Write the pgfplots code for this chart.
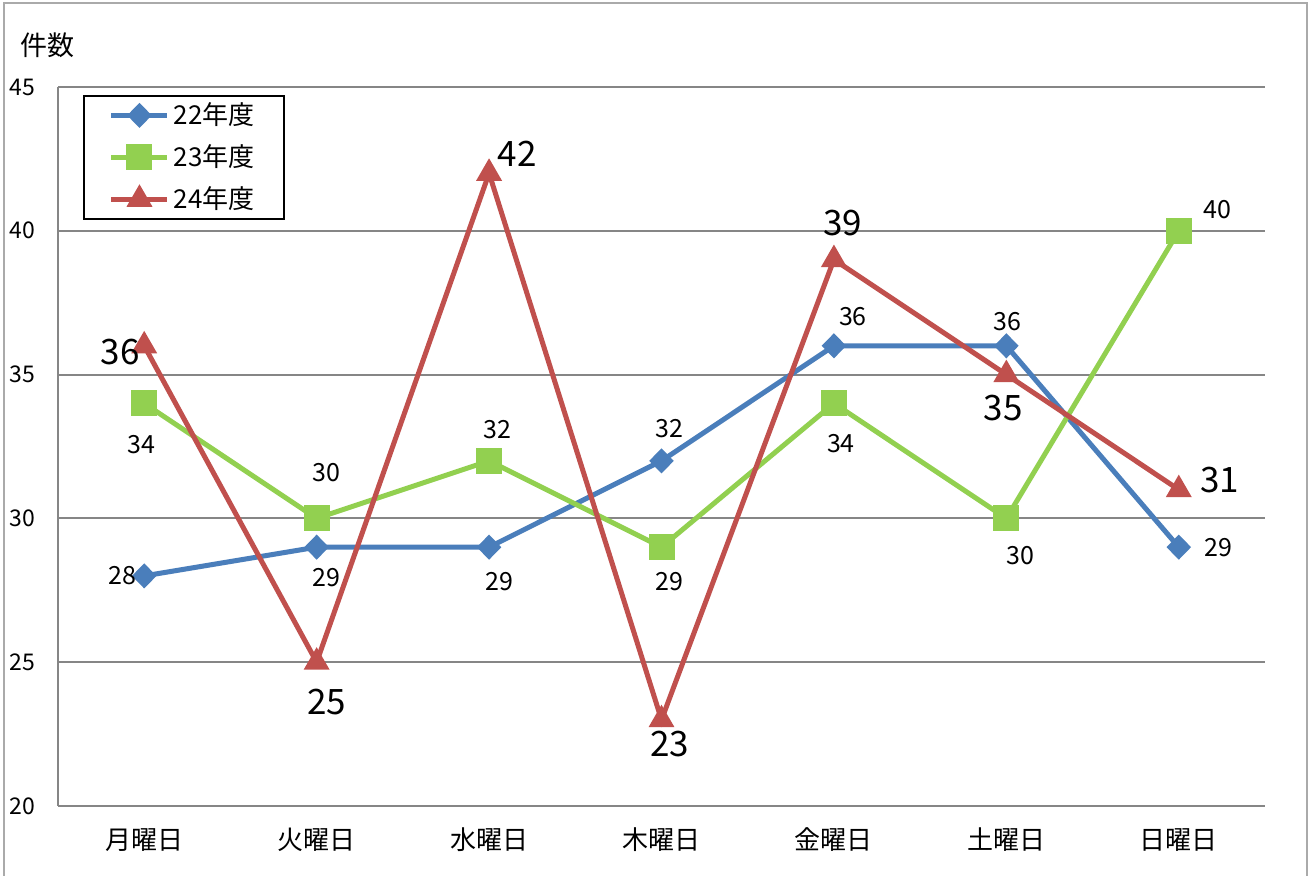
\documentclass[border=0pt]{standalone}
\usepackage{fontspec}
\setmainfont{Noto Sans CJK JP}
\usepackage{pgfplots}
\pgfplotsset{compat=1.18}
\usepackage{pgfplotstable}
\definecolor{s1}{HTML}{4A7EBB}
\definecolor{s2}{HTML}{92D050}
\definecolor{s3}{HTML}{C0504D}
\definecolor{gridc}{HTML}{868686}

\pgfplotstableread{
x y dx dy
0 28 -10.75 0
1 29 5 -15
2 29 5 -17
3 32 4 16
4 36 9.5 14.5
5 36 0.5 12
6 29 20 0
}\tA
\pgfplotstableread{
x y dx dy
0 34 -1.5 -20.5
1 30 5 23
2 32 4 15.5
3 29 4 -17
4 34 3.5 -20
5 30 7 -18.5
6 40 19.5 10.5
}\tB
\pgfplotstableread{
x y dx dy
0 36 -12 -3
1 25 5 -20
2 42 14 9.5
3 23 4 -12
4 39 4.5 18.5
5 35 -1.5 -16.5
6 31 20.5 5
}\tC

\begin{document}
\begin{tikzpicture}
\useasboundingbox (0pt,0pt) rectangle (655.5pt,438pt);
\draw[color=gridc!70, line width=1pt] (2pt,-5pt) rectangle (653.5pt,436.5pt);
\begin{axis}[
  at={(29pt,35pt)}, anchor=south west,
  scale only axis, width=603.5pt, height=359.5pt,
  xmin=-0.5, xmax=6.5, ymin=20, ymax=45,
  ytick={20,25,...,45},
  xtick={0,...,6},
  xticklabels={月曜日,火曜日,水曜日,木曜日,金曜日,土曜日,日曜日},
  /pgf/number format/assume math mode=true,
  axis x line*=bottom, axis y line*=left,
  axis line style={draw=gridc, line width=1pt},
  major tick length=0pt,
  ymajorgrids, grid style={draw=gridc, line width=1pt},
  xticklabel style={anchor=center, yshift=-17pt, font=\fontsize{13pt}{15pt}\selectfont},
  yticklabel style={anchor=center, xshift=-17.75pt, font=\fontsize{11.5pt}{13pt}\selectfont},
  ylabel={件数},
  every axis y label/.style={at={(axis description cs:-0.0083,1.058)}, anchor=center, font=\fontsize{13.5pt}{15pt}\selectfont},
  line width=2.5pt,
  legend style={at={(0.0207,0.989)}, anchor=north west, draw=black, line width=1pt,
    font=\fontsize{13pt}{15pt}\selectfont, inner xsep=12.5pt, inner ysep=1.5pt, row sep=4.5pt},
  legend cell align=left,
  legend image code/.code={\draw[line width=2.5pt, mark repeat=2,mark phase=2] plot coordinates {(0pt,0pt) (14pt,0pt) (28pt,0pt)};},
  nodes near coords,
  visualization depends on={\thisrow{dx} \as \dx},
  visualization depends on={\thisrow{dy} \as \dy},
  nodes near coords style={anchor=center, xshift=\dx pt, yshift=\dy pt, text=black},
]
\addplot[color=s1, mark=diamond*, mark size=4.5pt, mark options={xscale=1.3, solid},
  nodes near coords style={font=\fontsize{12.5pt}{15pt}\selectfont}] table[x=x,y=y] {\tA};
\addlegendentry{22年度}
\addplot[color=s2, mark=square*, mark size=5.25pt, mark options={solid},
  nodes near coords style={font=\fontsize{12.5pt}{15pt}\selectfont}] table[x=x,y=y] {\tB};
\addlegendentry{23年度}
\addplot[color=s3, mark=triangle*, mark size=5pt, mark options={solid},
  nodes near coords style={font=\fontsize{17.5pt}{20pt}\selectfont}] table[x=x,y=y] {\tC};
\addlegendentry{24年度}
\end{axis}
\end{tikzpicture}
\end{document}
